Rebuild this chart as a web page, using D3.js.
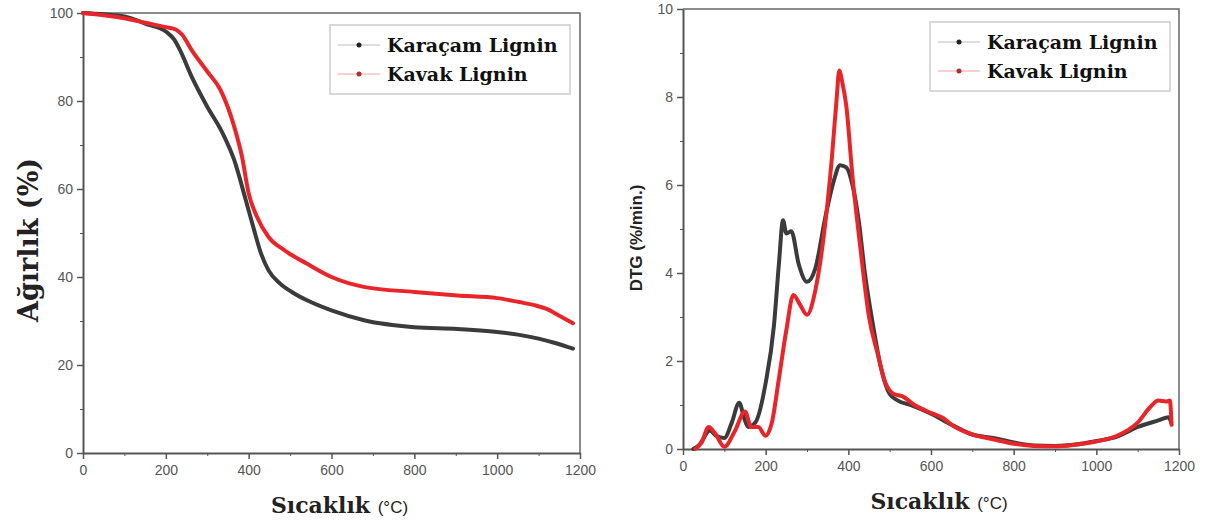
<!DOCTYPE html>
<html lang="tr">
<head>
<meta charset="utf-8">
<title>TGA / DTG</title>
<script src="https://cdn.jsdelivr.net/npm/d3@7"></script>
<style>
  body { margin: 0; background: #fff; }
  svg { display: block; }
  .tick text { font-family: "Liberation Sans", Arial, sans-serif; font-size: 14px; fill: #555; }
  .domain, .tick line { stroke: #555; }
</style>
</head>
<body>
<script>
// ---- data ----
var seriesNames = ["Karaçam Lignin", "Kavak Lignin"];
var seriesColors = ["#3b3b3b", "#e8262a"];

// TGA (left), temperature in °C, weight in %
var tgaTempKaracam = [0, 50, 100, 150, 200, 220, 234, 262, 300, 337, 365, 393, 411, 430, 448, 476, 504, 541, 600, 681, 800, 904, 1000, 1050, 1100, 1140, 1183];
var tgaKaracam     = [100, 99.7, 99.2, 97.6, 95.8, 94, 91.6, 85.6, 78.7, 72.7, 66.6, 57.5, 51.4, 45.3, 41.5, 38.5, 36.6, 34.7, 32.4, 30.1, 28.6, 28.2, 27.5, 26.9, 26.0, 25.0, 23.7];
var tgaTempKavak   = [0, 50, 100, 150, 200, 225, 240, 262, 300, 332, 365, 384, 400, 420, 448, 486, 541, 600, 681, 800, 904, 1000, 1053, 1090, 1118, 1150, 1183];
var tgaKavak       = [100, 99.5, 98.8, 97.8, 96.8, 96.2, 95.0, 91.6, 86.7, 82.5, 74.2, 67.3, 59, 53.7, 49.1, 46.1, 43, 40, 37.7, 36.6, 35.8, 35.2, 34.3, 33.6, 32.8, 31.2, 29.5];

// DTG (right), temperature in °C, rate in %/min.
var dtgTempKaracam = [25, 40, 65, 80, 100, 118, 136, 148, 158, 175, 200, 220, 232, 242, 250, 262, 280, 300, 320, 345, 365, 380, 395, 410, 425, 440, 460, 480, 500, 520, 550, 600, 650, 700, 750, 800, 850, 900, 950, 1000, 1050, 1100, 1150, 1175, 1181];
var dtgKaracam     = [0, 0.1, 0.42, 0.3, 0.25, 0.6, 1.05, 0.7, 0.5, 0.6, 1.5, 2.8, 4.2, 5.2, 4.9, 4.95, 4.2, 3.8, 4.1, 5.3, 6.1, 6.45, 6.4, 6.0, 5.2, 4.0, 2.8, 1.8, 1.25, 1.1, 1.0, 0.8, 0.55, 0.33, 0.25, 0.15, 0.08, 0.07, 0.1, 0.18, 0.28, 0.5, 0.65, 0.72, 0.6];
var dtgTempKavak   = [30, 45, 62, 78, 100, 125, 150, 165, 182, 200, 215, 232, 250, 267, 282, 300, 320, 340, 360, 372, 378, 385, 395, 410, 430, 450, 470, 490, 510, 530, 560, 600, 630, 650, 700, 750, 800, 850, 900, 950, 1000, 1050, 1100, 1130, 1150, 1168, 1178, 1182];
var dtgKavak       = [0, 0.15, 0.5, 0.35, 0.05, 0.4, 0.85, 0.5, 0.5, 0.3, 0.6, 1.6, 2.7, 3.5, 3.3, 3.05, 3.6, 4.8, 6.6, 8.0, 8.6, 8.35, 7.8, 6.2, 4.5, 3.0, 2.2, 1.5, 1.25, 1.2, 1.0, 0.82, 0.7, 0.55, 0.33, 0.22, 0.12, 0.07, 0.06, 0.1, 0.17, 0.3, 0.6, 0.95, 1.1, 1.08, 1.1, 0.55];

var xTicks = [0, 200, 400, 600, 800, 1000, 1200];
var xMinor = [100, 300, 500, 700, 900, 1100];
var tgaTicks = [0, 20, 40, 60, 80, 100];
var tgaMinor = [10, 30, 50, 70, 90];
var dtgTicks = [0, 2, 4, 6, 8, 10];
var dtgMinor = [1, 3, 5, 7, 9];

var w = 1209, h = 526;
var svg = d3.select("body").append("svg").attr("width", w).attr("height", h);

function zip(xs, ys) { return xs.map(function (x, i) { return [x, ys[i]]; }); }

function panel(o) {
  var x = d3.scaleLinear().domain([0, 1200]).range([o.left, o.right]);
  var y = d3.scaleLinear().domain(o.yDomain).range([o.bottom, o.top]);
  var g = svg.append("g");

  // frame (top + right)
  g.append("path")
    .attr("d", "M" + o.left + "," + o.top + "H" + o.right + "V" + o.bottom)
    .attr("fill", "none").attr("stroke", "#666").attr("stroke-width", 1.5);

  // minor ticks
  g.append("g").attr("transform", "translate(0," + o.bottom + ")")
    .call(d3.axisBottom(x).tickValues(xMinor).tickSize(3).tickFormat(""))
    .call(function (s) { s.select(".domain").remove(); });
  g.append("g").attr("transform", "translate(" + o.left + ",0)")
    .call(d3.axisLeft(y).tickValues(o.yMinor).tickSize(3).tickFormat(""))
    .call(function (s) { s.select(".domain").remove(); });

  var xa = g.append("g").attr("transform", "translate(0," + o.bottom + ")")
    .call(d3.axisBottom(x).tickValues(xTicks).tickFormat(d3.format("d"))
      .tickSize(6).tickSizeOuter(0).tickPadding(6));
  var ya = g.append("g").attr("transform", "translate(" + o.left + ",0)")
    .call(d3.axisLeft(y).tickValues(o.yTicks).tickFormat(d3.format("d"))
      .tickSize(6).tickSizeOuter(0).tickPadding(4));
  [xa, ya].forEach(function (a) {
    a.select(".domain").attr("stroke-width", 2);
    a.selectAll(".tick line").attr("stroke-width", 1.5);
  });

  var line = d3.line()
    .x(function (d) { return x(d[0]); })
    .y(function (d) { return y(d[1]); })
    .curve(d3.curveMonotoneX);

  o.series.forEach(function (s, i) {
    g.append("path")
      .datum(s)
      .attr("fill", "none")
      .attr("stroke", seriesColors[i])
      .attr("stroke-width", 4)
      .attr("stroke-linejoin", "round")
      .attr("stroke-linecap", "round")
      .attr("d", line);
  });

  // legend
  var lg = g.append("g").attr("transform", "translate(" + o.legend[0] + "," + o.legend[1] + ")");
  lg.append("rect").attr("width", 240).attr("height", 69)
    .attr("fill", "#fff").attr("stroke", "#ccc").attr("stroke-width", 1.5);
  seriesNames.forEach(function (n, i) {
    var cy = 20 + i * 29;
    lg.append("line").attr("x1", 8).attr("x2", 50).attr("y1", cy).attr("y2", cy)
      .attr("stroke", i === 0 ? "#bbb" : "#f0a0a0").attr("stroke-width", 1);
    lg.append("circle").attr("cx", 29).attr("cy", cy).attr("r", 2.5)
      .attr("fill", i === 0 ? "#222" : "#b03030");
    lg.append("text").attr("x", 57).attr("y", cy + 7)
      .style("font-family", "'DejaVu Serif', serif").style("font-weight", "bold")
      .style("font-size", "19px").attr("fill", "#111").text(n);
  });

  // x title
  var xt = g.append("text").attr("x", (o.left + o.right) / 2 + 8).attr("y", o.bottom + 60)
    .attr("text-anchor", "middle").attr("fill", "#222");
  xt.append("tspan").style("font-family", "'DejaVu Serif', serif").style("font-weight", "bold")
    .style("font-size", "22px").text("Sıcaklık ");
  xt.append("tspan").style("font-family", "'Liberation Sans', Arial, sans-serif")
    .style("font-size", "17px").text("(°C)");

  // y title
  g.append("text")
    .attr("transform", "translate(" + o.yTitle[0] + "," + o.yTitle[1] + ") rotate(-90)")
    .attr("text-anchor", "middle").attr("fill", "#222")
    .style("font-family", o.yTitleFont).style("font-weight", "bold")
    .style("font-size", o.yTitleSize).text(o.yTitleText);
}

panel({
  left: 83, right: 580, top: 13, bottom: 453,
  yDomain: [0, 100], yTicks: tgaTicks, yMinor: tgaMinor,
  series: [zip(tgaTempKaracam, tgaKaracam), zip(tgaTempKavak, tgaKavak)],
  legend: [330, 25],
  yTitle: [38, 240], yTitleText: "Ağırlık (%)",
  yTitleFont: "'DejaVu Serif', serif", yTitleSize: "27px"
});

panel({
  left: 683, right: 1179, top: 9, bottom: 449,
  yDomain: [0, 10], yTicks: dtgTicks, yMinor: dtgMinor,
  series: [zip(dtgTempKaracam, dtgKaracam), zip(dtgTempKavak, dtgKavak)],
  legend: [930, 22],
  yTitle: [642, 238], yTitleText: "DTG (%/min.)",
  yTitleFont: "'Liberation Sans', Arial, sans-serif", yTitleSize: "17px"
});
</script>
</body>
</html>
